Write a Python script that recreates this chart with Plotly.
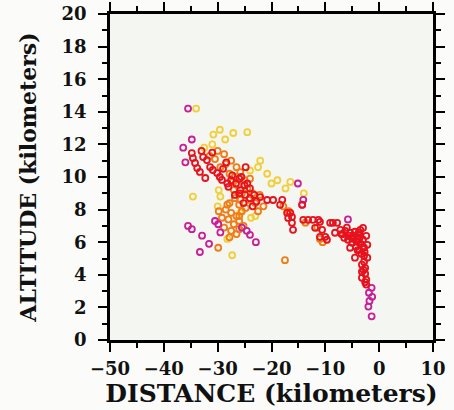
import plotly.graph_objects as go

# Magenta events
mag_x = [-35.5, -36.4, -34.8, -35.5, -34.8, -32.9, -33.3, -30.5, -29.9, -29.5,
         -25.5, -24.6, -24.0, -22.9, -15.1, -14.1, -14.3, -5.8, -1.4, -1.9,
         -1.3, -1.8, -2.0, -1.4, -31.6, -36.0]
mag_y = [14.2, 11.8, 12.3, 7.0, 6.8, 6.4, 5.4, 7.3, 7.1, 6.6,
         6.9, 6.7, 6.45, 6.0, 9.6, 8.6, 8.3, 7.4, 3.2, 2.9,
         2.65, 2.4, 2.05, 1.45, 5.9, 10.9]

# Red events
red_x = [-34.8, -34.6, -34.2, -33.8, -33.3, -32.3, -32.7, -32.0, -31.4, -30.9,
         -30.1, -29.6, -29.2, -28.4, -27.3, -26.6, -25.8, -24.9, -24.0, -22.1,
         -20.8, -19.7, -18.4, -17.1, -16.2, -16.5, -16.9, -16.2, -16.0, -14.3,
         -14.1, -13.2, -12.3, -11.3, -10.6, -11.0, -10.0, -8.6, -8.2, -11.9,
         -11.0, -9.7, -9.1, -7.8, -7.2, -6.3, -5.4, -4.5, -3.5, -3.0,
         -6.5, -5.8, -5.0, -4.3, -3.7, -3.3, -4.5, -5.4, -3.0, -2.8,
         -2.8, -2.8, -2.6, -2.6, -2.4, -2.4, -3.2, -3.2, -3.2, -2.2,
         -2.2, -2.4, -6.0, -4.0, -3.8, -33.0, -31.0, -28.0, -26.0, -25.0,
         -23.2, -18.0, -7.0, -4.8, -3.6, -27.5, -26.0, -24.5, -25.2, -23.5,
         -28.2, -29.0, -2.6, -2.9, -2.7, -3.4, -4.0, -4.8, -5.6, -3.8,
         -26.8, -24.0, -22.8, -5.2, -4.2, -3.6, -6.8, -25.6, -24.8]
red_y = [11.47, 11.16, 10.86, 10.55, 10.31, 9.94, 11.22, 11.04, 10.61, 10.43,
         10.24, 10.0, 9.82, 10.9, 10.1, 9.6, 9.2, 8.9, 8.7, 8.77,
         8.59, 8.59, 8.29, 7.8, 7.55, 7.8, 7.49, 7.19, 6.76, 8.29,
         7.37, 7.37, 7.37, 7.37, 6.76, 6.33, 6.33, 7.19, 6.58, 6.88,
         7.25, 6.15, 7.19, 7.19, 6.76, 6.7, 6.58, 6.64, 6.76, 6.88,
         6.27, 6.15, 5.96, 5.72, 5.53, 5.29, 5.05, 5.66, 6.15, 5.66,
         5.17, 4.8, 4.43, 4.07, 3.7, 3.4, 4.62, 4.19, 3.82, 5.05,
         5.84, 6.39, 6.9, 6.2, 6.0, 11.6, 11.5, 9.4, 9.9, 9.5,
         8.9, 8.6, 6.5, 6.4, 6.5, 9.8, 9.0, 9.6, 8.4, 8.2,
         9.6, 10.5, 3.55, 4.3, 5.4, 5.9, 5.5, 6.2, 6.4, 6.6,
         8.9, 9.3, 8.5, 6.3, 6.05, 6.3, 6.5, 10.0, 10.6]

# Orange events
org_x = [-28.5, -27.5, -26.5, -27.8, -26.8, -25.8, -25.0, -26.2, -27.0, -25.5,
         -24.5, -23.5, -24.2, -23.0, -25.8, -26.8, -27.8, -29.5, -30.5, -31.5,
         -30.0, -28.8, -22.2, -21.5, -22.5, -24.8, -25.5, -28.5, -27.5, -26.5,
         -28.0, -27.0, -26.0, -28.8, -27.5, -26.5, -29.2, -25.2, -17.8, -16.8,
         -13.7, -11.5, -11.0, -10.5, -17.5, -29.9, -26.0, -24.0, -26.0, -27.2,
         -29.8, -28.2, -26.0, -27.8]
org_y = [10.8, 11.0, 10.6, 10.2, 10.0, 10.3, 9.8, 9.5, 9.2, 9.0,
         9.3, 9.0, 8.6, 8.4, 8.6, 8.7, 8.4, 10.6, 11.1, 11.3,
         11.6, 11.4, 8.9, 8.2, 7.9, 8.1, 7.9, 8.0, 7.8, 7.6,
         7.4, 7.1, 7.3, 6.9, 6.7, 6.5, 7.5, 7.0, 8.2, 7.9,
         7.2, 6.9, 6.2, 6.0, 4.9, 5.66, 7.6, 9.9, 8.3, 9.7,
         7.9, 8.3, 6.8, 6.3]

# Yellow events
yel_x = [-34.0, -30.8, -29.6, -28.6, -27.1, -24.5, -22.1, -22.5, -20.8, -18.9,
         -17.4, -16.5, -20.0, -34.6, -31.0, -32.5, -23.0, -25.8, -30.0, -29.5,
         -14.0, -27.3, -29.8, -23.8, -28.2, -24.0]
yel_y = [14.2, 12.6, 12.9, 12.3, 12.7, 12.75, 11.0, 10.6, 10.2, 9.8,
         9.3, 9.7, 9.6, 8.8, 12.0, 11.8, 7.6, 7.8, 8.2, 8.8,
         9.0, 5.2, 9.2, 7.5, 6.2, 10.4]

x_ticks = [-50, -40, -30, -20, -10, 0, 10]
y_ticks = [0, 2, 4, 6, 8, 10, 12, 14, 16, 18, 20]

fig = go.Figure()
series = [
    (yel_x, yel_y, "#f2cf3a"),
    (org_x, org_y, "#ef7d16"),
    (mag_x, mag_y, "#c81e96"),
    (red_x, red_y, "#e6121e"),
]
for xs, ys, col in series:
    fig.add_trace(go.Scatter(
        x=xs, y=ys, mode="markers",
        marker=dict(symbol="circle-open", size=6, color=col, line=dict(width=1.8, color=col)),
        showlegend=False, hoverinfo="skip"))

font_fam = "DejaVu Serif"
axis_common = dict(
    showline=True, linewidth=2.5, linecolor="black", mirror="allticks",
    ticks="outside", ticklen=9, tickwidth=2.2, tickcolor="black",
    showgrid=False, zeroline=False, automargin=False,
    tickfont=dict(family=font_fam, size=18, color="#111", weight="bold"),
)
fig.update_xaxes(
    range=[-50, 10], tickvals=x_ticks, ticktext=[("−" + str(-v)) if v < 0 else str(v) for v in x_ticks],
    minor=dict(dtick=5, ticks="outside", ticklen=5, tickwidth=2, tickcolor="black"),
    title=dict(text="DISTANCE (kilometers)", font=dict(family=font_fam, size=25, color="#111", weight="bold"), standoff=1),
    ticklabelstandoff=2,
    **axis_common)
fig.update_yaxes(
    range=[0, 20], tickvals=y_ticks,
    minor=dict(dtick=1, ticks="outside", ticklen=5, tickwidth=2, tickcolor="black"),
    title=dict(text="ALTITUDE (kilometers)", font=dict(family=font_fam, size=22, color="#111", weight="bold"), standoff=19),
    ticklabelstandoff=8,
    **axis_common)

fig.update_layout(
    width=454, height=410,
    margin=dict(l=110, r=21, t=14, b=70),
    plot_bgcolor="#f3f6f1", paper_bgcolor="#fbfcfa",
)
fig.write_html("out.html", config={"displayModeBar": False},
               post_script="document.body.style.margin='0';")
